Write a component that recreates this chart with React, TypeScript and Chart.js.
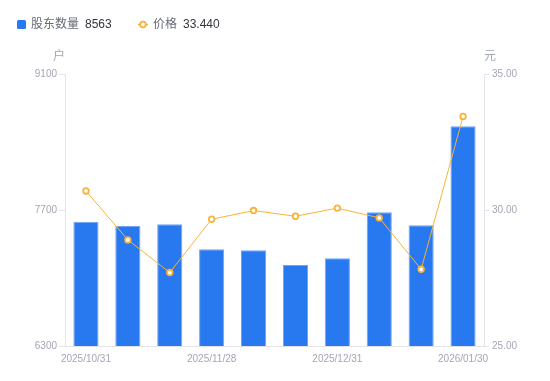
import React, { useEffect, useRef } from "react";
import { Chart, registerables } from "chart.js";

Chart.register(...registerables);

const categories = [
  "2025/10/31", "2025/11/10", "2025/11/20", "2025/11/28", "2025/12/10",
  "2025/12/19", "2025/12/31", "2026/01/09", "2026/01/20", "2026/01/30",
];
const holders = [7580, 7535, 7553, 7295, 7285, 7134, 7203, 7676, 7542, 8563];
const prices = [30.7, 28.9, 27.7, 29.66, 29.98, 29.77, 30.07, 29.71, 27.82, 33.44];
const leftTicks = [6300, 7700, 9100];
const rightTicks = [25, 30, 35];

const LATIN = "'Liberation Sans', 'Noto Sans CJK SC', sans-serif";
const BLUE = "#2878f0";
const ORANGE = "#f9b23a";
const TICK = "#a3a6b4";
const AXIS = "#e3e4ea";

const overlay = {
  id: "overlay",
  afterDraw(chart: any) {
    const ctx = chart.ctx;
    ctx.save();
    ctx.textBaseline = "middle";
    // legend
    ctx.fillStyle = BLUE;
    ctx.beginPath();
    ctx.roundRect ? ctx.roundRect(17, 20, 9, 9, 1.5) : ctx.rect(17, 20, 9, 9);
    ctx.fill();
    ctx.font = `12px ${LATIN}`;
    ctx.textAlign = "left";
    ctx.fillStyle = "#666a75";
    ctx.fillText("股东数量", 31, 24.5);
    ctx.fillStyle = "#33353d";
    ctx.fillText(String(holders[holders.length - 1]), 85, 24.5);
    ctx.strokeStyle = ORANGE;
    ctx.lineWidth = 1.5;
    ctx.beginPath();
    ctx.moveTo(138, 24.5);
    ctx.lineTo(148, 24.5);
    ctx.stroke();
    ctx.beginPath();
    ctx.arc(143, 24.5, 2.8, 0, Math.PI * 2);
    ctx.fillStyle = "#fff";
    ctx.fill();
    ctx.lineWidth = 1.8;
    ctx.stroke();
    ctx.fillStyle = "#666a75";
    ctx.fillText("价格", 153, 24.5);
    ctx.fillStyle = "#33353d";
    ctx.fillText(prices[prices.length - 1].toFixed(3), 183, 24.5);
    // axis units
    ctx.fillStyle = TICK;
    ctx.font = `12px ${LATIN}`;
    ctx.textAlign = "center";
    ctx.fillText("户", 59, 57);
    ctx.fillText("元", 490, 57);
    ctx.restore();
  },
};

export default function App() {
  const ref = useRef<HTMLCanvasElement>(null);
  useEffect(() => {
    if (!ref.current) return;
    const chart = new Chart(ref.current, {
      type: "bar",
      data: {
        labels: categories,
        datasets: [
          {
            type: "line",
            label: "价格",
            data: prices,
            yAxisID: "y1",
            borderColor: ORANGE,
            borderWidth: 1,
            pointRadius: 2.8,
            pointBorderWidth: 1.8,
            pointBackgroundColor: "#fff",
            pointBorderColor: ORANGE,
            tension: 0,
            order: 0,
          } as any,
          {
            type: "bar",
            label: "股东数量",
            data: holders,
            yAxisID: "y",
            backgroundColor: BLUE,
            borderColor: "#6fa3f5",
            borderWidth: { top: 1, left: 1, right: 1, bottom: 0 },
            categoryPercentage: 1,
            barPercentage: 0.6,
            order: 1,
          } as any,
        ],
      },
      options: {
        animation: false,
        responsive: false,
        maintainAspectRatio: false,
        layout: { padding: { top: 74, left: 0, right: 0, bottom: 0 } },
        plugins: { legend: { display: false }, tooltip: { enabled: false } },
        scales: {
          x: {
            grid: { display: false, drawTicks: false },
            border: { display: true, color: AXIS },
            ticks: {
              autoSkip: false,
              maxRotation: 0,
              padding: 7,
              color: TICK,
              font: { size: 10, family: LATIN },
              callback: (_v: any, i: number) => (i % 3 === 0 ? categories[i] : ""),
            },
            afterFit: (s: any) => { s.height = 35; },
          },
          y: {
            position: "left",
            min: leftTicks[0],
            max: leftTicks[leftTicks.length - 1],
            afterBuildTicks: (s: any) => { s.ticks = leftTicks.map((v) => ({ value: v })); },
            grid: { drawOnChartArea: false, tickLength: 6, color: AXIS },
            border: { display: true, color: AXIS },
            ticks: {
              padding: 2,
              color: TICK,
              font: { size: 10, family: LATIN },
              callback: (v: any) => String(v),
            },
            afterFit: (s: any) => { s.width = 65; },
          },
          y1: {
            position: "right",
            min: rightTicks[0],
            max: rightTicks[rightTicks.length - 1],
            afterBuildTicks: (s: any) => { s.ticks = rightTicks.map((v) => ({ value: v })); },
            grid: { drawOnChartArea: false, tickLength: 5, color: AXIS },
            border: { display: true, color: AXIS },
            ticks: {
              padding: 3,
              color: TICK,
              font: { size: 10, family: LATIN },
              callback: (v: any) => Number(v).toFixed(2),
            },
            afterFit: (s: any) => { s.width = 66; },
          },
        },
      } as any,
      plugins: [overlay],
    });
    return () => chart.destroy();
  }, []);
  return (
    <div style={{ position: "fixed", left: 0, top: 0, width: 550, height: 381, background: "#fff" }}>
      <canvas ref={ref} width={550} height={381} style={{ width: 550, height: 381, display: "block" }} />
    </div>
  );
}
